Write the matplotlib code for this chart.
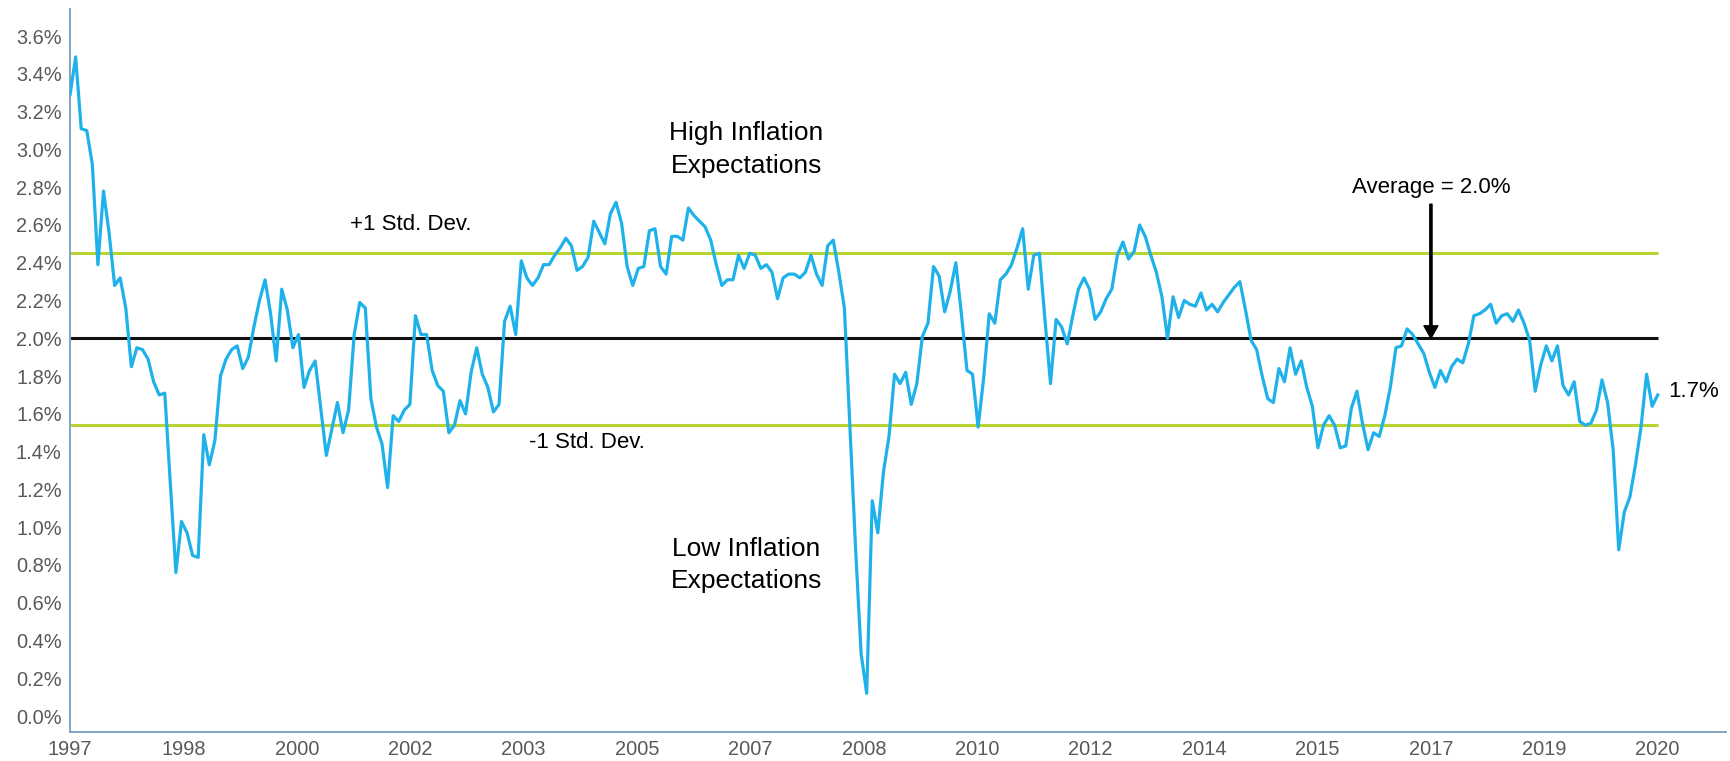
"""Breakeven inflation expectations with mean and +/-1 std. dev. bands -> out.png"""
import numpy as np
import matplotlib

matplotlib.use("Agg")
import matplotlib.pyplot as plt  # noqa: E402

plt.rcParams["font.family"] = ["Liberation Sans", "DejaVu Sans"]

# monthly readings, in percent, first point 1997
VALUES = [
    3.29, 3.49, 3.11, 3.10, 2.92, 2.39, 2.78, 2.56, 2.28, 2.32,
    2.16, 1.85, 1.95, 1.94, 1.89, 1.77, 1.70, 1.71, 1.23, 0.76,
    1.03, 0.97, 0.85, 0.84, 1.49, 1.33, 1.46, 1.80, 1.89, 1.94,
    1.96, 1.84, 1.90, 2.06, 2.20, 2.31, 2.13, 1.88, 2.26, 2.15,
    1.95, 2.02, 1.74, 1.83, 1.88, 1.63, 1.38, 1.52, 1.66, 1.50,
    1.62, 2.02, 2.19, 2.16, 1.68, 1.53, 1.44, 1.21, 1.59, 1.56,
    1.62, 1.65, 2.12, 2.02, 2.02, 1.83, 1.75, 1.72, 1.50, 1.54,
    1.67, 1.60, 1.82, 1.95, 1.81, 1.74, 1.61, 1.65, 2.09, 2.17,
    2.02, 2.41, 2.32, 2.28, 2.32, 2.39, 2.39, 2.44, 2.48, 2.53,
    2.49, 2.36, 2.38, 2.43, 2.62, 2.56, 2.50, 2.66, 2.72, 2.61,
    2.38, 2.28, 2.37, 2.38, 2.57, 2.58, 2.38, 2.34, 2.54, 2.54,
    2.52, 2.69, 2.65, 2.62, 2.59, 2.52, 2.39, 2.28, 2.31, 2.31,
    2.44, 2.37, 2.45, 2.44, 2.37, 2.39, 2.35, 2.21, 2.32, 2.34,
    2.34, 2.32, 2.35, 2.44, 2.34, 2.28, 2.49, 2.52, 2.35, 2.16,
    1.53, 0.89, 0.33, 0.12, 1.14, 0.97, 1.29, 1.48, 1.81, 1.76,
    1.82, 1.65, 1.76, 2.01, 2.08, 2.38, 2.33, 2.14, 2.25, 2.40,
    2.13, 1.83, 1.81, 1.53, 1.79, 2.13, 2.08, 2.31, 2.34, 2.39,
    2.48, 2.58, 2.26, 2.44, 2.45, 2.10, 1.76, 2.10, 2.06, 1.97,
    2.12, 2.26, 2.32, 2.26, 2.10, 2.14, 2.21, 2.26, 2.44, 2.51,
    2.42, 2.46, 2.60, 2.54, 2.44, 2.35, 2.22, 2.00, 2.22, 2.11,
    2.20, 2.18, 2.17, 2.24, 2.15, 2.18, 2.14, 2.19, 2.23, 2.27,
    2.30, 2.15, 1.99, 1.94, 1.80, 1.68, 1.66, 1.84, 1.77, 1.95,
    1.81, 1.88, 1.74, 1.64, 1.42, 1.54, 1.59, 1.54, 1.42, 1.43,
    1.63, 1.72, 1.55, 1.41, 1.50, 1.48, 1.59, 1.74, 1.95, 1.96,
    2.05, 2.02, 1.97, 1.92, 1.82, 1.74, 1.83, 1.77, 1.85, 1.89,
    1.87, 1.97, 2.12, 2.13, 2.15, 2.18, 2.08, 2.12, 2.13, 2.09,
    2.15, 2.08, 1.99, 1.72, 1.86, 1.96, 1.88, 1.96, 1.75, 1.70,
    1.77, 1.56, 1.54, 1.55, 1.62, 1.78, 1.66, 1.41, 0.88, 1.08,
    1.16, 1.33, 1.53, 1.81, 1.64, 1.70,
]
TICK_LABELS = ["1997", "1998", "2000", "2002", "2003", "2005", "2007", "2008",
               "2010", "2012", "2014", "2015", "2017", "2019", "2020"]
AVERAGE = 2.0
STD_UPPER = 2.453
STD_LOWER = 1.543
LAST_LABEL = "1.7%"

LINE = "#1fb2ea"
GREEN = "#b8d432"
SPINE = "#7fa6c6"
TICK_GREY = "#595959"

x = np.arange(len(VALUES))
last = len(VALUES) - 1
tick_pos = np.linspace(0, last, len(TICK_LABELS))

fig = plt.figure(figsize=(17.3, 7.61), dpi=100)
ax = fig.add_axes([0.0405, 0.038, 0.957, 0.9505])

ax.hlines([STD_UPPER, STD_LOWER], 0, last, color=GREEN, lw=2.2, zorder=1)
ax.hlines(AVERAGE, 0, last, color="#111111", lw=2.2, zorder=2)
ax.plot(x, VALUES, color=LINE, lw=2.3, zorder=3)

ax.set_xlim(0, last * 1657 / 1589)
ax.set_ylim(-0.085, 3.745)
ax.set_yticks(np.arange(0, 3.61, 0.2))
ax.set_yticklabels([f"{v:.1f}%" for v in np.arange(0, 3.61, 0.2)])
ax.set_xticks(tick_pos)
ax.set_xticklabels(TICK_LABELS)
ax.tick_params(axis="both", length=0, labelsize=14.4, colors=TICK_GREY)
ax.tick_params(axis="y", pad=6)
ax.tick_params(axis="x", pad=6)

for side in ("top", "right"):
    ax.spines[side].set_visible(False)
for side in ("left", "bottom"):
    ax.spines[side].set_color(SPINE)
    ax.spines[side].set_linewidth(1.4)

# annotations
ax.text(121.4, 3.0, "High Inflation\nExpectations", ha="center", va="center",
        fontsize=19, linespacing=1.45)
ax.text(121.4, 0.80, "Low Inflation\nExpectations", ha="center", va="center",
        fontsize=19, linespacing=1.45)
ax.text(61.1, 2.605, "+1 Std. Dev.", ha="center", va="center", fontsize=16)
ax.text(92.8, 1.448, "-1 Std. Dev.", ha="center", va="center", fontsize=16)

arrow_x = tick_pos[TICK_LABELS.index("2017")]
ax.text(arrow_x, 2.80, "Average = 2.0%", ha="center", va="center", fontsize=16)
ax.annotate("", xy=(arrow_x, AVERAGE), xytext=(arrow_x, 2.71),
            arrowprops=dict(facecolor="black", edgecolor="black", width=1.6,
                            headwidth=10, headlength=9, shrink=0))
ax.text(last + 1.9, VALUES[-1] + 0.02, LAST_LABEL, ha="left", va="center", fontsize=16)

fig.savefig("out.png", dpi=100)
